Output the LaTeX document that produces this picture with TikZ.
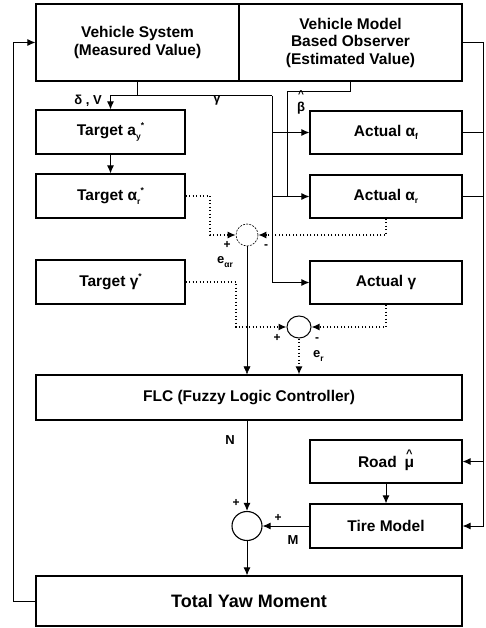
\documentclass[tikz,border=0pt]{standalone}
\usepackage{fontspec}
\setmainfont{Liberation Sans}
\usetikzlibrary{arrows.meta,shapes.geometric}

% small raised / lowered marks for indices
\newcommand\lowidx[1]{\raisebox{-0.45ex}{\fontsize{8.5}{8.5}\selectfont #1}}
\newcommand\highidx[1]{\raisebox{0.9ex}{\fontsize{8.5}{8.5}\selectfont #1}}
\newcommand\hatover[1]{\ooalign{#1\cr\hidewidth\raisebox{0.6em}{\fontsize{11}{11}\selectfont\^{}}\hidewidth\cr}}

\tikzset{
  blk/.style={draw, line width=1.1pt, inner sep=0pt, minimum width=#1,
              font=\fontsize{15.5}{17.5}\selectfont\bfseries, align=center},
  ln/.style={line width=1pt},
  arr/.style={ln, -{Latex[length=8pt,width=7pt]}},
  dotln/.style={line width=1.3pt, dash pattern=on 1.3pt off 2.2pt},
  dotarr/.style={dotln, -{Latex[length=8pt,width=7pt]}},
  thinarr/.style={line width=0.5pt, -{Latex[length=8pt,width=7pt]}},
  lbl/.style={font=\fontsize{13}{15}\selectfont\bfseries, inner sep=0pt},
  sgn/.style={font=\fontsize{12}{13}\selectfont\bfseries, inner sep=0pt},
}

\begin{document}
\begin{tikzpicture}[x=1pt, y=-1pt]
\useasboundingbox (0,0) rectangle (486,628);

% blocks
\node[blk=203pt, minimum height=77pt] (vs) at (137.5,42.5) {Vehicle System\\(Measured Value)};
\node[blk=223pt, minimum height=77pt] (vm) at (350.5,42.5) {Vehicle Model\\Based Observer\\(Estimated Value)};
\node[blk=149pt, minimum height=44pt] (tay) at (110.5,132) {Target a\lowidx{y}\highidx{*}};
\node[blk=149pt, minimum height=44pt] (tar) at (110.5,196) {Target α\lowidx{r}\highidx{*}};
\node[blk=149pt, minimum height=44pt] (tg) at (110.5,282) {Target γ\highidx{*}};
\node[blk=152pt, minimum height=43pt] (aaf) at (386,132.5) {Actual α\lowidx{f}};
\node[blk=152pt, minimum height=43pt] (aar) at (386,196.5) {Actual α\lowidx{r}};
\node[blk=152pt, minimum height=43pt] (ag) at (386,282.5) {Actual γ};
\node[blk=426pt, minimum height=45pt] (flc) at (249,397.5) {FLC (Fuzzy Logic Controller)};
\node[blk=152pt, minimum height=43pt] (road) at (386,461.5) {Road\enspace\hatover{μ}};
\node[blk=152pt, minimum height=44pt] (tire) at (386,526) {Tire Model};
\node[blk=426pt, minimum height=50pt, font=\fontsize{18}{20}\selectfont\bfseries] (tym) at (249,601) {Total Yaw Moment};

% summing junctions
\node[draw, ellipse, line width=0.6pt, dash pattern=on 2pt off 1.2pt, minimum width=22pt, minimum height=22pt, inner sep=0pt] (s1) at (247,235) {};
\node[draw, ellipse, line width=1pt, minimum width=24pt, minimum height=22pt, inner sep=0pt] (s2) at (299,327) {};
\node[draw, ellipse, line width=1.1pt, minimum width=30pt, minimum height=29pt, inner sep=0pt] (s3) at (247,526) {};

% junction points
\coordinate (jy) at (272,96);
\coordinate (jb) at (287,92);
\coordinate (rroad) at (483,461.5);
\coordinate (k1) at (210,235);
\coordinate (k2) at (236,327);
\coordinate (lfb) at (13,601);

% measured values
\draw[ln] (vs.south) -- (vs.south |- jy);
\draw[arr] (jy) -- (jy -| tay.north) -- (tay.north);
\draw[ln] (jy) -- (jy |- ag.west);
\draw[arr] (jy |- aaf.west) -- (aaf.west);
\draw[arr] (jy |- aar.west) -- (aar.west);
\draw[arr] (jy |- ag.west) -- (ag.west);

% estimated value
\draw[ln] (vm.south) |- (jb) -- (jb |- aar.west);

% target chain
\draw[arr] (tay.south) -- (tar.north);

% right feedback line
\draw[arr] (vm.east) -| (rroad) -- (road.east);
\draw[arr] (rroad) |- (tire.east);
\draw[ln] (aaf.east) -- (aaf.east -| rroad);
\draw[ln] (aar.east) -- (aar.east -| rroad);

% error of rear slip angle
\draw[dotarr] (tar.east) -| (k1) -- (s1.west);
\draw[dotarr] (aar.south) |- (s1.east);
\draw[thinarr] (s1.south) -- (s1.south |- flc.north);

% yaw rate error
\draw[dotarr] (tg.east) -| (k2) -- (s2.west);
\draw[dotarr] (ag.south) |- (s2.east);
\draw[dotarr] (s2.south) -- (s2.south |- flc.north);

% controller output and tire moment
\draw[arr] (flc.south -| s3.north) -- (s3.north);
\draw[arr] (road.south) -- (tire.north);
\draw[arr] (tire.west) -- (s3.east);
\draw[arr] (s3.south) -- (s3.south |- tym.north);

% left feedback line
\draw[arr] (tym.west) -- (lfb) |- (vs.west);

% labels
\node[lbl] at (88,101) {δ , V};
\node[lbl] at (217,100) {γ};
\node[lbl] at (301,108) {β};
\node[lbl, font=\fontsize{10}{10}\selectfont\bfseries] at (301,94) {\^{}};
\node[sgn] at (227,245) {+};
\node[sgn] at (266,247) {-};
\node[lbl, anchor=west] at (217,262) {e\lowidx{αr}};
\node[sgn] at (277,338) {+};
\node[sgn] at (317,340) {-};
\node[lbl, anchor=west] at (313,356) {e\lowidx{r}};
\node[lbl] at (230,440) {N};
\node[sgn] at (236,503) {+};
\node[sgn] at (278,518) {+};
\node[lbl] at (293,540) {M};
\end{tikzpicture}
\end{document}
